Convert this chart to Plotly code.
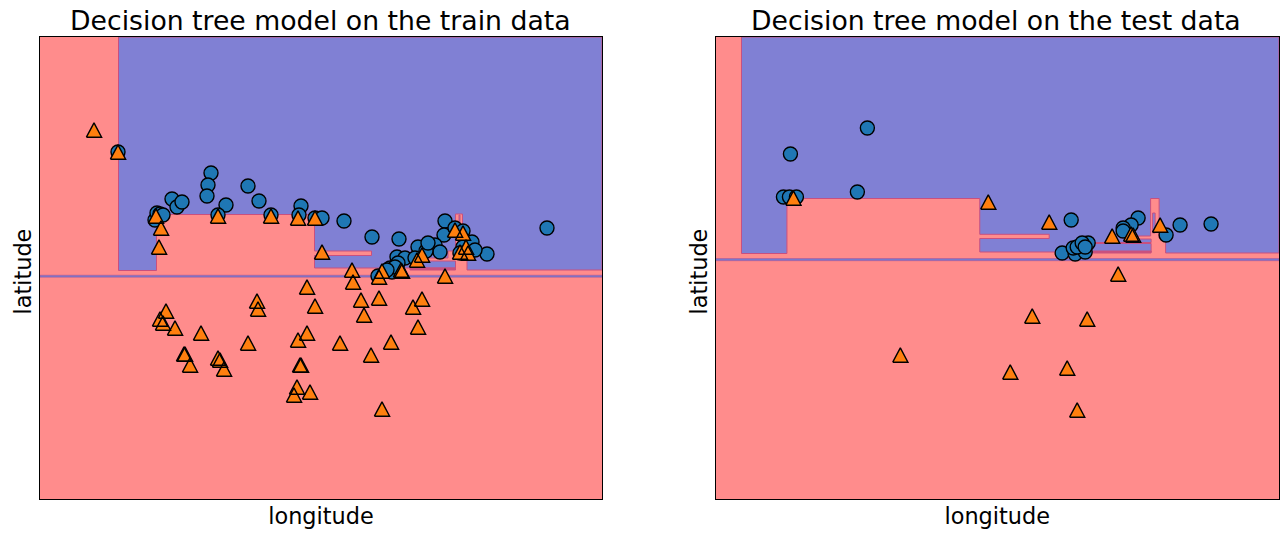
import plotly.graph_objects as go

# --- train data ---
train_c0_lon = [118,211,208,207,248,172,177,182,226,259,301,299,271,218,155,157,160,163,315,322,344,372,399,445,444,547,487,455,463,435,440,418,426,428,463,472,475,460,397,405,415,398,390,378,392,395,387]
train_c0_lat = [386,365,353,342,352,339,331,336,333,337,332,323,323,323,318,325,324,323,320,320,317,301,299,317,303,310,284,310,307,293,286,291,287,295,291,296,288,285,281,280,280,275,270,262,266,271,268]
train_c1_lon = [94,118,156,161,159,218,271,298,315,322,352,353,379,382,402,401,417,422,445,455,463,466,468,460,307,257,258,166,160,163,175,201,248,298,307,315,361,379,364,340,371,391,418,422,413,184,185,190,218,220,224,301,300,297,294,310,382]
train_c1_lat = [408,386,322,310,291,322,322,320,320,286,268,256,261,267,267,268,278,283,262,308,305,291,285,286,251,237,229,227,219,215,210,205,195,198,205,232,238,240,223,195,183,196,211,239,231,184,184,173,180,178,169,173,173,151,143,146,129]

# --- test data ---
test_c0_lon = [867,790,857,783,789,796,1071,1138,1131,1123,1123,1180,1211,1166,1062,1075,1085,1073,1077,1088,1082,1085]
test_c0_lat = [410,384,346,341,341,341,318,320,313,310,307,313,314,303,285,284,286,290,291,295,295,291]
test_c1_lon = [793,988,1049,1112,1131,1133,1160,1118,1032,1087,1067,1010,900,1077]
test_c1_lat = [340,336,316,302,304,303,313,264,222,219,170,166,183,128]

# --- decision regions of class 0 ---
train_region_lon = [118.5,602,602,467,467,462.5,462.5,455.5,455.5,448,448,428,428,455.5,455.5,314.5,314.5,371.5,371.5,314.5,314.5,156.5,156.5,118.5,118.5]
train_region_lat = [501,501,268,268,298,298,324,324,287,287,280,280,277,277,270,270,282.5,282.5,287,287,323.5,323.5,267.5,267.5,501]
train_sliver_lon = [459,460,460,459,459]
train_sliver_lat = [303,303,323,323,303]
train_strip_lon = [40,602,602,40,40]
train_strip_lat = [260.8,260.8,262.8,262.8,260.8]
train_dark_lon = [410,455.5,455.5,410,410]
train_dark_lat = [268,268,270,270,268]

test_region_lon = [741,1279,1279,1165.5,1165.5,1159,1159,1150.5,1150.5,1138,1138,1151,1151,1093,1093,1151,1151,979.5,979.5,1049,1049,979.5,979.5,786.5,786.5,741,741]
test_region_lat = [501,501,285,285,300,300,339.5,339.5,302,302,299,299,295.5,295.5,294.5,294.5,286,286,299.5,299.5,303.7,303.7,339.5,339.5,284.5,284.5,501]
test_sliver_lon = [1152.5,1155,1155,1152.5,1152.5]
test_sliver_lat = [305,305,325,325,305]
test_strip_lon = [715,1279,1279,715,715]
test_strip_lat = [277.3,277.3,279.5,279.5,277.3]
test_dark_lon = [1093,1151,1151,1093,1093]
test_dark_lat = [285,285,287,287,285]

BLUE = "#8080d4"
RED = "#ff8c8c"
EDGE = "#c8507f"
W, H = 1288, 538

fig = go.Figure()

def region(lon, lat, xa, ya, fill=BLUE, line=EDGE, width=1):
    fig.add_trace(go.Scatter(x=lon, y=lat, xaxis=xa, yaxis=ya, mode="lines", fill="toself",
                             fillcolor=fill, line=dict(color=line, width=width), hoverinfo="skip"))

def circles(lon, lat, xa, ya):
    fig.add_trace(go.Scatter(x=lon, y=lat, xaxis=xa, yaxis=ya, mode="markers",
                             marker=dict(symbol="circle", size=14, color="#1f77b4", line=dict(color="black", width=1.4))))

def triangles(lon, lat, xa, ya):
    # Plotly's triangle-up is flatter than the reference's marker, so each point is
    # drawn as an upright triangle in axis units around its value.
    half_w, half_h = 7.6, 7.2
    px, py = [], []
    for a, b in zip(lon, lat):
        px += [a - half_w, a + half_w, a, a - half_w, None]
        py += [b - half_h, b - half_h, b + half_h, b - half_h, None]
    fig.add_trace(go.Scatter(x=px, y=py, xaxis=xa, yaxis=ya, mode="lines", fill="toself",
                             fillcolor="#ff7f0e", line=dict(color="black", width=1.4)))

region(train_region_lon, train_region_lat, "x", "y")
region(train_sliver_lon, train_sliver_lat, "x", "y")
region(train_strip_lon, train_strip_lat, "x", "y", fill="#7878cc", line="#b05090", width=0.5)
region(train_dark_lon, train_dark_lat, "x", "y", fill="#c8507f")
circles(train_c0_lon, train_c0_lat, "x", "y")
triangles(train_c1_lon, train_c1_lat, "x", "y")

region(test_region_lon, test_region_lat, "x2", "y2")
region(test_sliver_lon, test_sliver_lat, "x2", "y2")
region(test_strip_lon, test_strip_lat, "x2", "y2", fill="#7878cc", line="#b05090", width=0.5)
region(test_dark_lon, test_dark_lat, "x2", "y2", fill="#c8507f")
circles(test_c0_lon, test_c0_lat, "x2", "y2")
triangles(test_c1_lon, test_c1_lat, "x2", "y2")

FONT = "DejaVu Sans"
axis = dict(showticklabels=False, ticks="", showgrid=False, zeroline=False, showline=True,
            mirror=True, linecolor="black", linewidth=1)
x_title = dict(text="longitude", font=dict(size=22.4, family=FONT, color="black"), standoff=9)

def label(text, x, y, size, angle=0):
    return dict(text=text, x=x/W, y=(H-y)/H, xref="paper", yref="paper", showarrow=False, textangle=angle,
                xanchor="center", yanchor="middle", font=dict(size=size, family=FONT, color="black"), borderpad=0)

fig.update_layout(
    width=W, height=H, margin=dict(l=0, r=0, t=0, b=0), paper_bgcolor="white", plot_bgcolor=RED,
    showlegend=False,
    xaxis=dict(axis, domain=[40/W, 602/W], range=[40, 602], title=x_title),
    yaxis=dict(axis, domain=[39/H, 501/H], range=[39, 501]),
    xaxis2=dict(axis, domain=[715.5/W, 1279/W], range=[715, 1279], title=x_title, anchor="y2"),
    yaxis2=dict(axis, domain=[39/H, 501/H], range=[39, 501], anchor="x2"),
    annotations=[
        label("Decision tree model on the train data", 320, 20.5, 26.7),
        label("Decision tree model on the test data", 996.5, 20.5, 26.7),
        label("latitude", 22, 271.5, 22.4, -90),
        label("latitude", 698, 271.5, 22.4, -90),
    ],
)
fig.write_html("out.html", config={"displayModeBar": False},
               post_script="document.body.style.margin='0';document.documentElement.style.overflow='hidden';")
